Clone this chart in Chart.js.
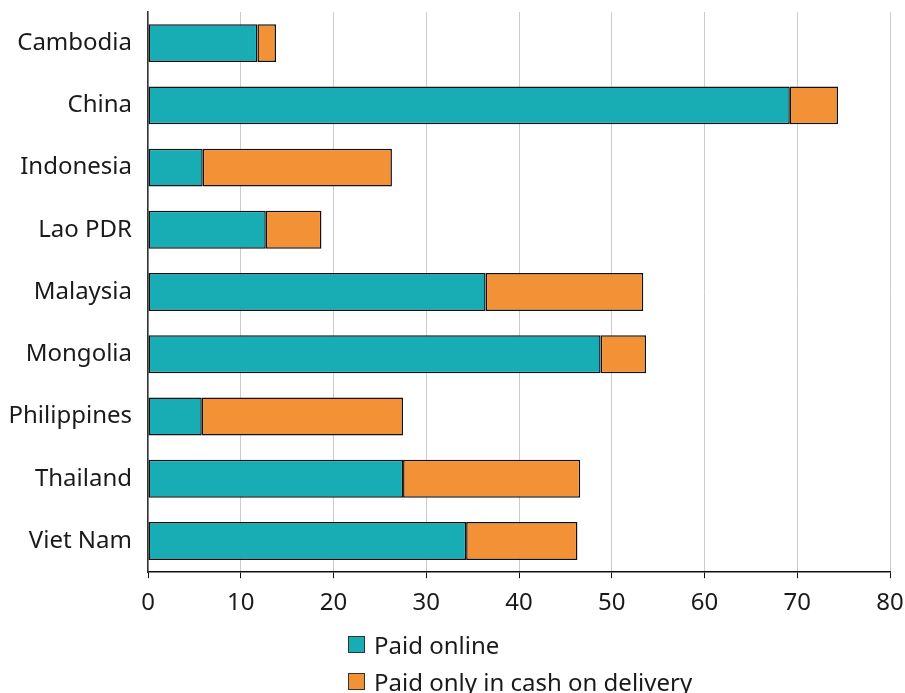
<!DOCTYPE html>
<html>
<head>
<meta charset="utf-8">
<script src="https://cdn.jsdelivr.net/npm/chart.js@4/dist/chart.umd.min.js"></script>
<style>
  html, body { margin: 0; padding: 0; background: #fff; overflow: hidden; }
  #wrap { position: relative; width: 905px; height: 693px; }
  #box { position: absolute; left: 0; top: 0; width: 905px; height: 634px; }
  #legend { position: absolute; left: 348px; top: 626px; font-family: "Noto Sans", sans-serif; font-size: 24px; color: #1a1a1a; }
  .item { display: flex; align-items: center; height: 37px; white-space: nowrap; }
  .swatch { width: 15px; height: 15px; border: 1px solid #333; margin-right: 9px; box-sizing: content-box; }
</style>
</head>
<body>
<div id="wrap">
  <div id="box"><canvas id="chart"></canvas></div>
  <div id="legend"></div>
</div>
<script>
// Valores (percentual de compradores online).
const countries = ["Cambodia", "China", "Indonesia", "Lao PDR", "Malaysia", "Mongolia", "Philippines", "Thailand", "Viet Nam"];
const paidOnline = [11.8, 69.2, 5.9, 12.7, 36.4, 48.8, 5.8, 27.5, 34.3];
const paidCashOnly = [2.0, 5.2, 20.4, 6.0, 17.0, 4.9, 21.7, 19.1, 12.0];
const xTicks = [0, 10, 20, 30, 40, 50, 60, 70, 80];

const TEAL = "#18adb5";
const ORANGE = "#f39137";
const INK = "#1a1a1a";
const FONT = { family: "Noto Sans", size: 24 };

const datasets = [
  { label: "Paid online", data: paidOnline, backgroundColor: TEAL },
  { label: "Paid only in cash on delivery", data: paidCashOnly, backgroundColor: ORANGE },
].map((d) => ({ ...d, borderColor: "#111", borderWidth: 1.5, borderSkipped: false, barPercentage: 0.61, categoryPercentage: 1 }));

const chart = new Chart(document.getElementById("chart"), {
  type: "bar",
  data: { labels: countries, datasets },
  options: {
    indexAxis: "y",
    responsive: true,
    maintainAspectRatio: false,
    animation: false,
    layout: { padding: { top: 12, right: 15, bottom: 5, left: 0 } },
    plugins: { legend: { display: false }, tooltip: { enabled: false } },
    scales: {
      x: {
        stacked: true,
        min: 0,
        max: 80,
        afterBuildTicks: (axis) => { axis.ticks = xTicks.map((v) => ({ value: v })); },
        ticks: { color: INK, font: FONT, padding: 11 },
        grid: { color: "#cccccc", lineWidth: 1, tickColor: "#111", tickLength: 6 },
        border: { color: "#111", width: 1.5 },
        afterFit: (axis) => { axis.paddingLeft = 0; axis.paddingRight = 0; },
      },
      y: {
        stacked: true,
        ticks: { color: INK, font: FONT, padding: 16 },
        grid: { display: false, drawTicks: false },
        border: { color: "#333", width: 1.5 },
        afterFit: (axis) => { axis.width = 148; axis.paddingTop = 0; axis.paddingBottom = 0; },
      },
    },
  },
});

// Legenda vertical em HTML, montada a partir dos datasets do gráfico.
const legendEl = document.getElementById("legend");
chart.data.datasets.forEach((d) => {
  const row = document.createElement("div");
  row.className = "item";
  const sw = document.createElement("span");
  sw.className = "swatch";
  sw.style.background = d.backgroundColor;
  const txt = document.createElement("span");
  txt.textContent = d.label;
  row.append(sw, txt);
  legendEl.appendChild(row);
});
</script>
</body>
</html>
